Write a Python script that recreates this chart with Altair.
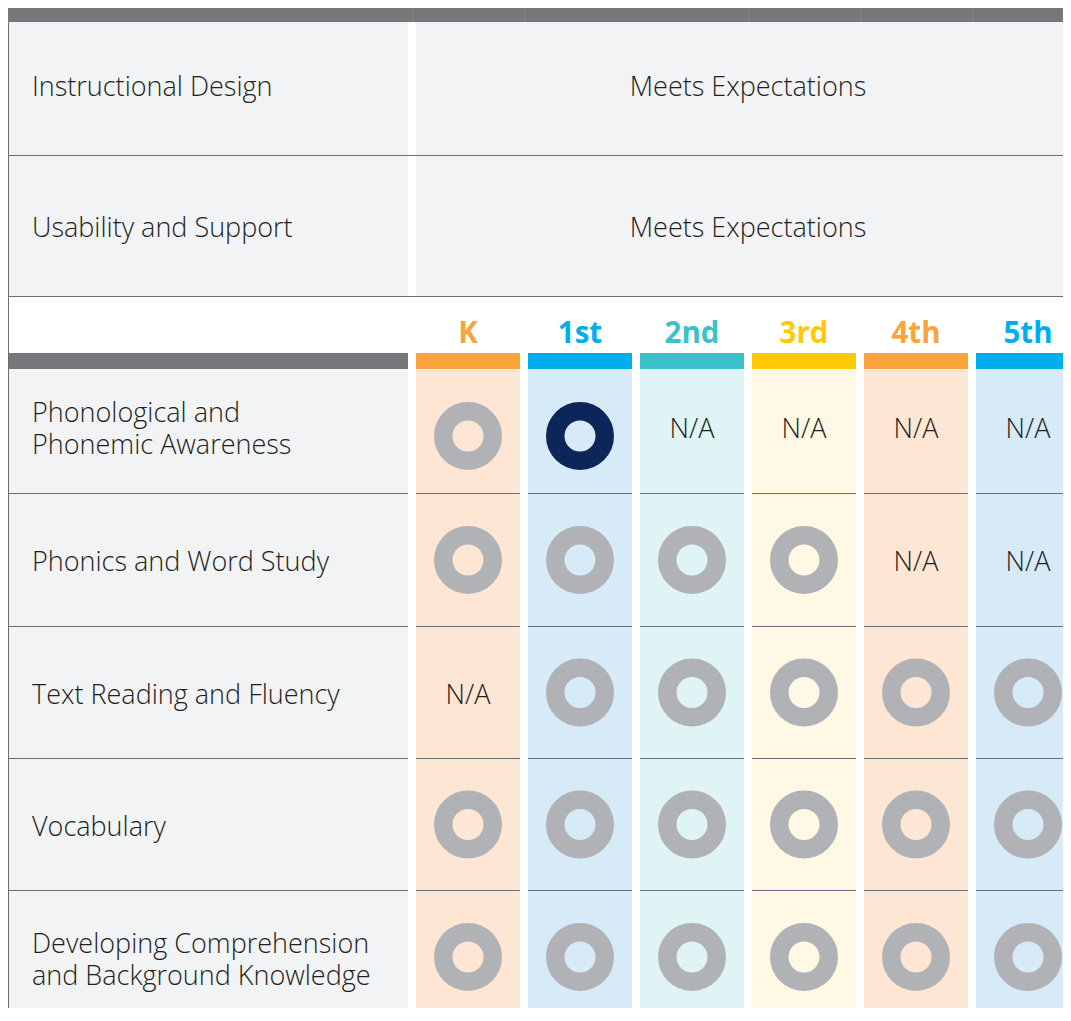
import altair as alt
import pandas as pd

# ---------------- data ----------------
summary_labels = ["Instructional Design", "Usability and Support"]
summary_values = ["Meets Expectations", "Meets Expectations"]
grades = ["K", "1st", "2nd", "3rd", "4th", "5th"]
criteria = [
    "Phonological and\nPhonemic Awareness",
    "Phonics and Word Study",
    "Text Reading and Fluency",
    "Vocabulary",
    "Developing Comprehension\nand Background Knowledge",
]
ratings = [
    ["meets", "focus", "N/A", "N/A", "N/A", "N/A"],
    ["meets", "meets", "meets", "meets", "N/A", "N/A"],
    ["N/A", "meets", "meets", "meets", "meets", "meets"],
    ["meets", "meets", "meets", "meets", "meets", "meets"],
    ["meets", "meets", "meets", "meets", "meets", "meets"],
]

# ---------------- styles ----------------
grade_accent = ["#f9a33b", "#00aeef", "#3bc1ca", "#ffca05", "#f9a33b", "#00aeef"]
grade_tint = ["#fee6d4", "#d6eaf8", "#e0f3f5", "#fef8e4", "#fee6d4", "#d6eaf8"]
ring_color = {"meets": "#b1b2b6", "focus": "#0c2659"}
BAR = "#76777b"
CELL = "#f2f3f4"
LINE = "#6d6e71"
TEXT = "#231f20"
FONT = "Open Sans"
FS = 27
HEAD_FS = 29.5
LH = 32

# ---------------- layout (page px) ----------------
L, R, T = 8, 1063, 8
VIEW_B = 1008          # visible bottom of the drawing
B = 1023               # table continues to here (clipped)
FULL_R = 1080          # table's right edge (clipped)
LAB_R = 408
COL0, COL_W, COL_P = 416, 104, 112
TOPBAR_B = 22
SUM_ROWS = [(22, 155), (156, 296)]
SUM_DY = [-1, 3]
HEAD_Y = 334
BAR_T, BAR_B = 353, 369
GRID_ROWS = [(369, 493), (494, 626), (627, 758), (759, 890), (891, 1023)]
GRID_DY = [-1, 3, 3, 3, 4]
RING_DY = [5, 0, 0, 0, 0]

rects = []
def rect(x, x2, y, y2, fill):
    rects.append(dict(x=x, x2=x2, y=y, y2=y2, fill=fill))

col_x = [COL0 + COL_P * i for i in range(len(grades))]

# top bar
rect(L, FULL_R, T, TOPBAR_B, BAR)
for gx in [412, 524, 748, 860, 972]:
    rect(gx, gx + 1, T, TOPBAR_B, "#838488")
# summary rows
for (t, b) in SUM_ROWS:
    rect(L, LAB_R, t, b, CELL)
    rect(COL0, FULL_R, t, b, CELL)
    rect(L, FULL_R, b, b + 1, LINE)
# header bars
rect(L, LAB_R, BAR_T, BAR_B, BAR)
rect(L, LAB_R, BAR_B, B, CELL)
for i, cx in enumerate(col_x):
    rect(cx, cx + COL_W, BAR_T, BAR_B, grade_accent[i])
    rect(cx, cx + COL_W, BAR_B, B, grade_tint[i])
# grid separators
for (t, b) in GRID_ROWS[:-1]:
    rect(L, LAB_R, b, b + 1, LINE)
    for cx in col_x:
        rect(cx, cx + COL_W, b, b + 1, LINE)
# left border
rect(L, L + 1, TOPBAR_B, B, LINE)

rect_df = pd.DataFrame(rects)

def text_y(t, b, s, dy):
    n = s.count("\n") + 1
    return (t + b) / 2 - (n - 1) * LH / 2 + dy

label_rows = []
for (t, b), s, dy in zip(SUM_ROWS, summary_labels, SUM_DY):
    label_rows.append(dict(x=32, y=text_y(t, b, s, dy), text=s))
for (t, b), s, dy in zip(GRID_ROWS, criteria, GRID_DY):
    label_rows.append(dict(x=32, y=text_y(t, b, s, dy), text=s))
label_df = pd.DataFrame(label_rows)

value_df = pd.DataFrame([
    dict(x=(COL0 + FULL_R) / 2, y=text_y(t, b, v, dy), text=v)
    for (t, b), v, dy in zip(SUM_ROWS, summary_values, SUM_DY)
])

head_df = pd.DataFrame([
    dict(x=cx + COL_W / 2, y=HEAD_Y, text=g, color=grade_accent[i])
    for i, (cx, g) in enumerate(zip(col_x, grades))
])

na_rows, ring_rows = [], []
for r, ((t, b), row) in enumerate(zip(GRID_ROWS, ratings)):
    for c, val in enumerate(row):
        cx = col_x[c] + COL_W / 2
        if val == "N/A":
            na_rows.append(dict(x=cx, y=text_y(t, b, "N/A", GRID_DY[r]), text="N/A"))
        else:
            ring_rows.append(dict(x=cx, y=(t + b) / 2 + RING_DY[r], color=ring_color[val]))
na_df = pd.DataFrame(na_rows)
ring_df = pd.DataFrame(ring_rows)

xs = alt.Scale(domain=[L, R], nice=False, zero=False)
ys = alt.Scale(domain=[T, VIEW_B], nice=False, zero=False, reverse=True)

def X(f="x"):
    return alt.X(f"{f}:Q", scale=xs, axis=None)

def Y(f="y"):
    return alt.Y(f"{f}:Q", scale=ys, axis=None)

rect_layer = alt.Chart(rect_df).mark_rect(clip=True).encode(
    x=X(), x2="x2:Q", y=Y(), y2="y2:Q",
    color=alt.Color("fill:N", scale=None),
)

label_layer = alt.Chart(label_df).mark_text(
    align="left", baseline="middle", font=FONT, fontSize=FS, fontWeight=300,
    color=TEXT, lineBreak="\n", lineHeight=LH, clip=True,
).encode(x=X(), y=Y(), text="text:N")

value_layer = alt.Chart(value_df).mark_text(
    align="center", baseline="middle", font=FONT, fontSize=FS, fontWeight=300,
    color=TEXT, clip=True,
).encode(x=X(), y=Y(), text="text:N")

head_layer = alt.Chart(head_df).mark_text(
    align="center", baseline="middle", font=FONT, fontSize=HEAD_FS, fontWeight="bold", clip=True,
).encode(x=X(), y=Y(), text="text:N", color=alt.Color("color:N", scale=None))

na_layer = alt.Chart(na_df).mark_text(
    align="center", baseline="middle", font=FONT, fontSize=FS, fontWeight=300,
    color=TEXT, clip=True,
).encode(x=X(), y=Y(), text="text:N")

ring_layer = alt.Chart(ring_df).mark_point(
    shape="circle", filled=False, size=2450, strokeWidth=18.5, opacity=1, clip=True,
).encode(x=X(), y=Y(), stroke=alt.Color("color:N", scale=None))

chart = alt.layer(
    rect_layer, label_layer, value_layer, head_layer, na_layer, ring_layer
).properties(
    width=R - L, height=VIEW_B - T, padding=0,
    autosize=alt.AutoSizeParams(type="none"),
).configure_view(strokeWidth=0)

chart.save("out.html", embed_options={"renderer": "svg", "actions": False})
